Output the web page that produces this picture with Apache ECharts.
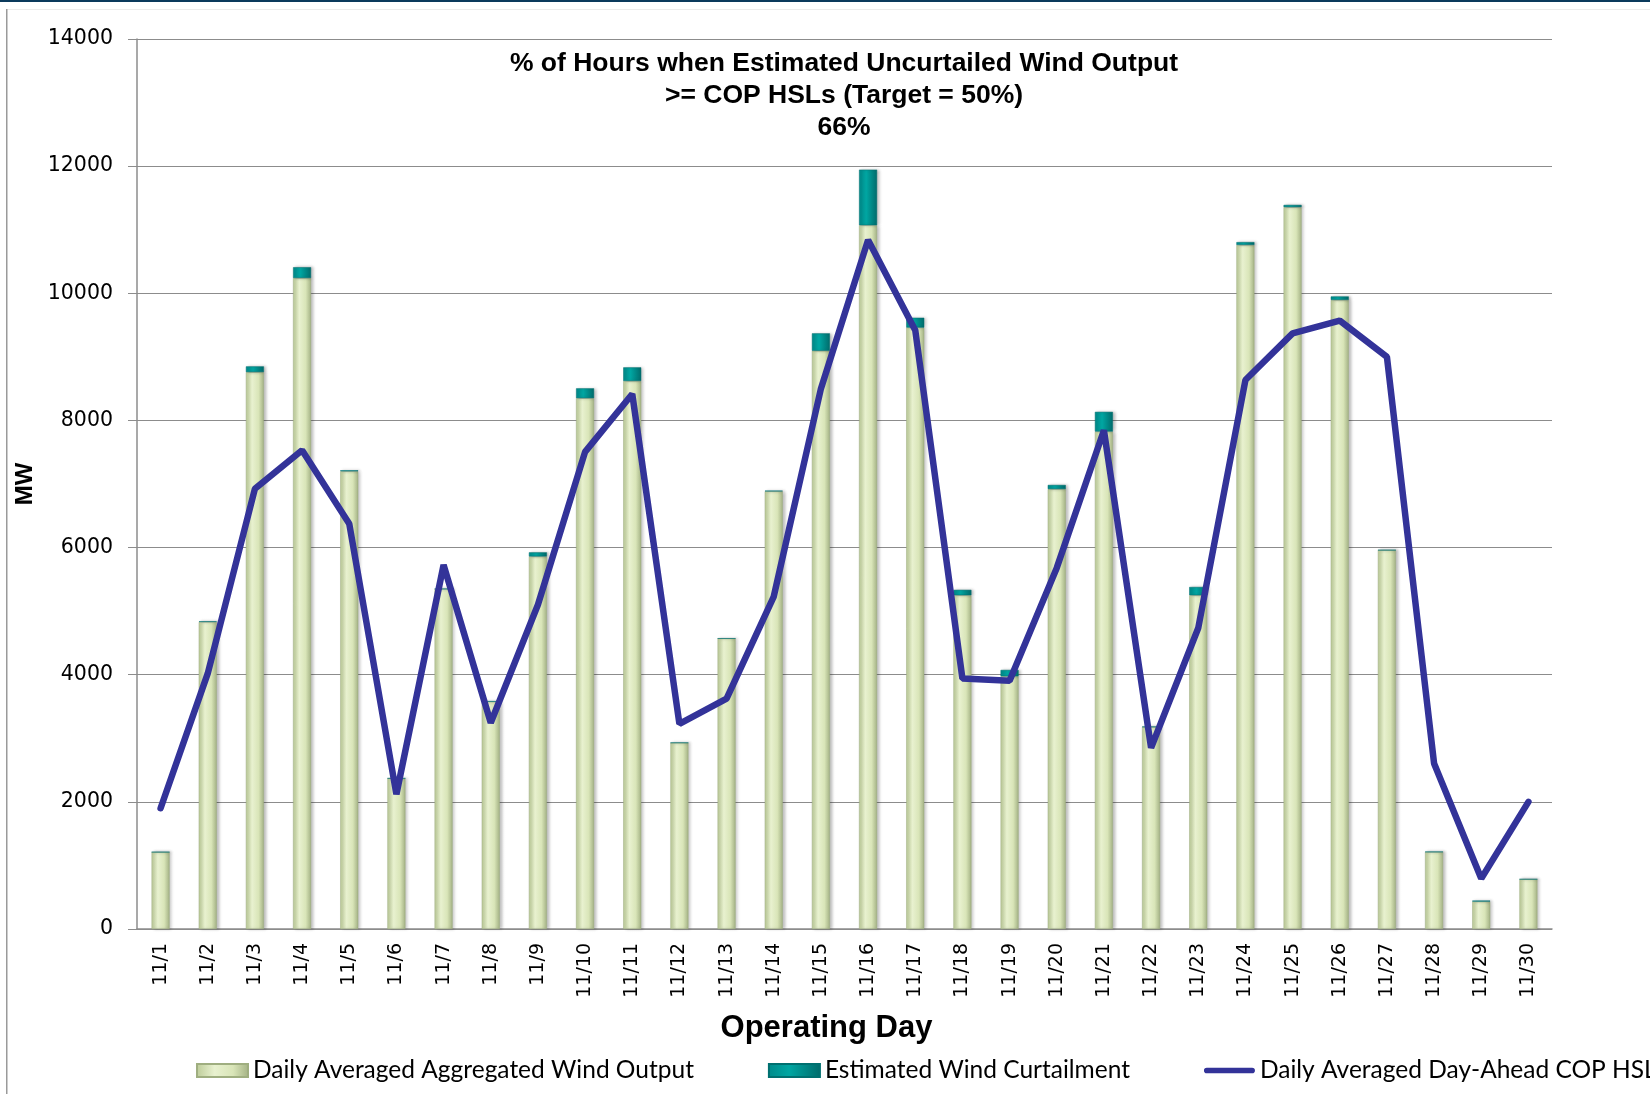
<!DOCTYPE html>
<html>
<head>
<meta charset="utf-8">
<title>Wind Output vs COP HSL</title>
<script src="https://cdn.jsdelivr.net/npm/echarts@6/dist/echarts.min.js"></script>
<style>
  html, body { margin: 0; padding: 0; background: #fff; }
  #chart { width: 1650px; height: 1094px; }
</style>
</head>
<body>
<div id="chart"></div>
<script>
// data
var days = ['11/1','11/2','11/3','11/4','11/5','11/6','11/7','11/8','11/9','11/10',
            '11/11','11/12','11/13','11/14','11/15','11/16','11/17','11/18','11/19','11/20',
            '11/21','11/22','11/23','11/24','11/25','11/26','11/27','11/28','11/29','11/30'];

var windOutput = [1210, 4830, 8760, 10240, 7200, 2370, 5350, 3575, 5860, 8350,
                  8620, 2930, 4570, 6885, 9095, 11070, 9460, 5250, 3975, 6920,
                  7825, 3180, 5250, 10760, 11355, 9895, 5960, 1213, 432, 783];

var curtailment = [0, 10, 90, 170, 15, 0, 0, 10, 65, 155,
                   215, 0, 0, 10, 275, 875, 155, 85, 100, 65,
                   310, 0, 130, 45, 35, 55, 0, 0, 15, 0];

var copHsl = [1900, 4020, 6925, 7530, 6375, 2120, 5726, 3244, 5100, 7505,
              8415, 3227, 3624, 5230, 8500, 10840, 9420, 3940, 3906, 5680,
              7845, 2850, 4735, 8635, 9370, 9570, 9000, 2605, 794, 2000];

var yTicks = { min: 0, max: 14000, interval: 2000 };

var chart = echarts.init(document.getElementById('chart'));

// bevel look of the bars
var greenFill = new echarts.graphic.LinearGradient(0, 0, 1, 0, [
  { offset: 0, color: '#bccb98' },
  { offset: 0.35, color: '#e8f1cf' },
  { offset: 0.7, color: '#d9e5b8' },
  { offset: 1, color: '#a3b184' }
]);
var tealFill = new echarts.graphic.LinearGradient(0, 0, 1, 0, [
  { offset: 0, color: '#008a8a' },
  { offset: 0.4, color: '#00a6a2' },
  { offset: 1, color: '#006b6b' }
]);

var tickFont = 'DejaVu Sans';
var boldFont = "'Liberation Sans', Arial, sans-serif";

var option = {
  backgroundColor: '#fff',
  animation: false,
  title: {
    text: '% of Hours when Estimated Uncurtailed Wind Output\n>= COP HSLs (Target = 50%)\n66%',
    left: 839,
    top: 43,
    textAlign: 'center',
    textStyle: {
      fontFamily: boldFont,
      fontSize: 26.5,
      fontWeight: 'bold',
      color: '#000',
      lineHeight: 32
    }
  },
  legend: {
    left: 191,
    top: 1053,
    width: 1800,
    itemGap: 74,
    itemWidth: 51,
    itemHeight: 13,
    textStyle: {
      fontFamily: 'Lato, sans-serif',
      fontSize: 24.5,
      color: '#000'
    },
    data: [
      { name: 'Daily Averaged Aggregated Wind Output', icon: 'rect' },
      { name: 'Estimated Wind Curtailment', icon: 'rect' },
      { name: 'Daily Averaged Day-Ahead COP HSL',
        icon: 'path://M3,0 L51,0 A3,3 0 0 1 51,6 L3,6 A3,3 0 0 1 3,0 Z' }
    ]
  },
  grid: {
    left: 137,
    top: 39,
    right: 98,
    bottom: 165,
    containLabel: false
  },
  xAxis: {
    type: 'category',
    data: days,
    name: 'Operating Day',
    nameLocation: 'middle',
    nameGap: 84,
    nameTextStyle: {
      fontFamily: boldFont,
      fontSize: 31,
      fontWeight: 'bold',
      color: '#000',
      padding: [0, 36, 0, 0]
    },
    axisLine: { lineStyle: { color: '#8c8c8c', width: 1.5 } },
    axisTick: { alignWithLabel: false, length: 9, lineStyle: { color: '#8c8c8c' } },
    axisLabel: {
      rotate: 90,
      interval: 0,
      margin: 14,
      fontFamily: tickFont,
      fontSize: 19,
      color: '#000'
    }
  },
  yAxis: {
    type: 'value',
    min: yTicks.min,
    max: yTicks.max,
    interval: yTicks.interval,
    name: 'MW',
    nameLocation: 'middle',
    nameGap: 99,
    nameRotate: 90,
    nameTextStyle: {
      fontFamily: boldFont,
      fontSize: 24,
      fontWeight: 'bold',
      color: '#000'
    },
    axisLine: { show: true, lineStyle: { color: '#8c8c8c', width: 1.5 } },
    axisTick: { show: true, length: 9, lineStyle: { color: '#8c8c8c' } },
    axisLabel: {
      margin: 24,
      fontFamily: tickFont,
      fontSize: 20.5,
      color: '#000',
      formatter: function (v) { return String(v); }
    },
    splitLine: { lineStyle: { color: '#8c8c8c', width: 1.2 } }
  },
  series: [
    {
      name: 'Daily Averaged Aggregated Wind Output',
      type: 'bar',
      stack: 'wind',
      barWidth: 18,
      data: windOutput,
      itemStyle: {
        color: greenFill,
        borderColor: '#9fae80',
        borderWidth: 0.5,
        shadowColor: 'rgba(0,0,0,0.25)',
        shadowBlur: 3,
        shadowOffsetX: 2
      }
    },
    {
      name: 'Estimated Wind Curtailment',
      type: 'bar',
      stack: 'wind',
      barWidth: 18,
      data: curtailment,
      itemStyle: {
        color: tealFill,
        borderColor: '#007070',
        borderWidth: 0.5,
        shadowColor: 'rgba(0,0,0,0.25)',
        shadowBlur: 3,
        shadowOffsetX: 2
      }
    },
    {
      name: 'Daily Averaged Day-Ahead COP HSL',
      type: 'line',
      data: copHsl,
      symbol: 'none',
      z: 5,
      lineStyle: { color: '#333399', width: 6.5, cap: 'round' },
      itemStyle: { color: '#333399' }
    }
  ],
  // frame around the picture
  graphic: [
    { type: 'rect', shape: { x: 0, y: 0, width: 1650, height: 2 }, style: { fill: '#0b3a5c' } },
    { type: 'rect', shape: { x: 7, y: 9, width: 1643, height: 1 }, style: { fill: '#ececec' } },
    { type: 'rect', shape: { x: 6, y: 9, width: 1.5, height: 1085 }, style: { fill: '#9a9a9a' } }
  ]
};

chart.setOption(option);
</script>
</body>
</html>
